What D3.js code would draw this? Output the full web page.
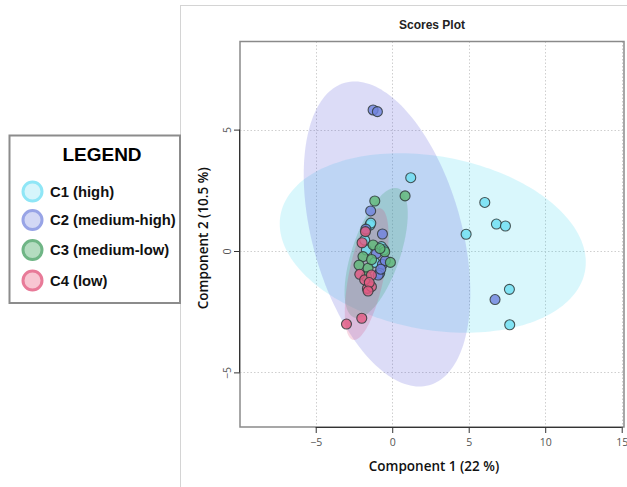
<!DOCTYPE html>
<html>
<head>
<meta charset="utf-8">
<script src="https://cdn.jsdelivr.net/npm/d3@7"></script>
<style>
  html, body { margin: 0; padding: 0; background: #fff; }
  svg { display: block; }
</style>
</head>
<body>
<svg id="chart" width="627" height="487"></svg>
<script>
// PCA scores, component 1 / component 2, per concentration group
const groupNames = ["C1 (high)", "C2 (medium-high)", "C3 (medium-low)", "C4 (low)"];

const c1X = [1.21, 6.05, 6.81, 7.40, 4.83, 7.66, 7.68, -1.45, -1.40, -1.80, -1.69, -0.71, -1.14, -0.55];
const c1Y = [3.02, 2.00, 1.11, 1.03, 0.69, -1.58, -3.04, 1.07, 1.15, 0.45, 0.04, 0.18, -0.47, 0.05];

const c2X = [-1.25, -0.97, 6.72, -1.41, -0.64, -1.72, -1.03, -0.64, -0.82, -0.92, -0.45, -0.75];
const c2Y = [5.81, 5.74, -2.00, 1.65, 0.70, 0.90, -0.10, -0.55, -0.92, -0.99, -0.40, -0.75];

const c3X = [-1.14, 0.84, -1.25, -0.49, -1.91, -0.12, -2.17, -1.58, -1.69, -0.80, -1.35];
const c3Y = [2.06, 2.27, 0.25, -0.03, -0.23, -0.47, -0.58, -0.71, -1.06, 0.10, -0.35];

const c4X = [-2.99, -1.99, -1.62, -1.36, -2.12, -1.80, -1.97, -1.75, -1.36, -1.50, -1.58];
const c4Y = [-3.01, -2.77, -1.54, -1.47, -0.96, -1.19, 0.34, 0.80, -0.99, -1.30, -1.65];

// 95% confidence regions: centre and two conjugate semi-axis vectors (score units)
const ellipseCenters = [[2.65, 0.33], [-0.34, 0.70], [-1.05, -0.08], [-1.67, -0.95]];
const ellipseAxisU = [[9.95, -1.16], [-2.75, 6.23], [1.43, 2.66], [0.89, 2.71]];
const ellipseAxisV = [[-1.03, -3.51], [4.70, 0.82], [1.49, -0.32], [1.12, -0.15]];

const xTicks = [-5, 0, 5, 10, 15];
const yTicks = [-5, 0, 5];
const xDomain = [-9.95, 15.15];
const yDomain = [-7.25, 8.63];

const chartTitle = "Scores Plot";
const xTitle = "Component 1 (22 %)";
const yTitle = "Component 2 (10.5 %)";
const legendTitle = "LEGEND";

// styling
const pointFill = ["rgba(110,222,242,0.82)", "rgba(112,132,222,0.82)", "rgba(96,184,120,0.82)", "rgba(226,92,130,0.82)"];
const ellipseFill = ["rgba(0,200,236,0.15)", "rgba(96,96,218,0.22)", "rgba(60,165,110,0.24)", "rgba(215,60,115,0.20)"];
const legendFill = ["#d6f5fb", "#d3d8f5", "#b4dcc0", "#f8c6d2"];
const legendStroke = ["#8fe6f6", "#98a4e6", "#6fb585", "#e87a98"];

const groupsX = [c1X, c2X, c3X, c4X];
const groupsY = [c1Y, c2Y, c3Y, c4Y];

const svg = d3.select("#chart");

const plot = { left: 240, top: 41.5, right: 624, bottom: 427 };
const x = d3.scaleLinear().domain(xDomain).range([plot.left, plot.right]);
const y = d3.scaleLinear().domain(yDomain).range([plot.bottom, plot.top]);

// outer panel edges
svg.append("line").attr("x1", 180.5).attr("x2", 180.5).attr("y1", 5).attr("y2", 487)
  .attr("stroke", "#d4d4d4").attr("stroke-width", 1);
svg.append("line").attr("x1", 180).attr("x2", 627).attr("y1", 5.5).attr("y2", 5.5)
  .attr("stroke", "#d4d4d4").attr("stroke-width", 1);

// dotted grid
const grid = svg.append("g").attr("stroke", "#cfcfcf").attr("stroke-width", 1).attr("stroke-dasharray", "1.5,2");
grid.selectAll(".gx").data(xTicks).join("line")
  .attr("x1", d => Math.round(x(d)) + 0.5).attr("x2", d => Math.round(x(d)) + 0.5)
  .attr("y1", plot.top).attr("y2", plot.bottom);
grid.selectAll(".gy").data(yTicks).join("line")
  .attr("y1", d => Math.round(y(d)) + 0.5).attr("y2", d => Math.round(y(d)) + 0.5)
  .attr("x1", plot.left).attr("x2", plot.right);

// confidence ellipses
const line = d3.line().x(d => x(d[0])).y(d => y(d[1])).curve(d3.curveLinearClosed);
const ellipsePts = i => d3.range(0, 360, 2).map(deg => {
  const t = deg * Math.PI / 180;
  const c = ellipseCenters[i], u = ellipseAxisU[i], v = ellipseAxisV[i];
  return [c[0] + Math.cos(t) * u[0] + Math.sin(t) * v[0],
          c[1] + Math.cos(t) * u[1] + Math.sin(t) * v[1]];
});
svg.append("g").selectAll("path").data(groupNames).join("path")
  .attr("d", (d, i) => line(ellipsePts(i)))
  .attr("fill", (d, i) => ellipseFill[i])
  .attr("stroke", "none");

// score points
const pts = svg.append("g");
groupNames.forEach((g, i) => {
  pts.selectAll(null).data(groupsX[i].map((v, k) => [v, groupsY[i][k]])).join("circle")
    .attr("cx", d => x(d[0])).attr("cy", d => y(d[1])).attr("r", 5)
    .attr("fill", pointFill[i])
    .attr("stroke", "#2f3a3a").attr("stroke-width", 1.1).attr("stroke-opacity", 0.85);
});

// frame
svg.append("rect").attr("x", plot.left).attr("y", plot.top)
  .attr("width", plot.right - plot.left).attr("height", plot.bottom - plot.top)
  .attr("fill", "none").attr("stroke", "#8a8a8a").attr("stroke-width", 1.5);

// axes
const axisFont = "'Open Sans', 'Liberation Sans', sans-serif";
const xAxis = svg.append("g").attr("transform", `translate(0,${plot.bottom})`)
  .call(d3.axisBottom(x).tickValues(xTicks).tickSize(6).tickPadding(6).tickSizeOuter(0));
xAxis.select(".domain").attr("d", `M${x(xTicks[0])},0.5H${x(xTicks[xTicks.length - 1])}`)
  .attr("stroke", "#333");
xAxis.selectAll(".tick line").attr("stroke", "#333");
xAxis.selectAll("text").attr("font-family", axisFont).attr("font-size", 10.5).attr("fill", "#555");

const yAxis = svg.append("g").attr("transform", `translate(${plot.left},0)`)
  .call(d3.axisLeft(y).tickValues(yTicks).tickSize(6).tickSizeOuter(0));
yAxis.select(".domain").attr("d", `M-0.5,${y(yTicks[yTicks.length - 1])}V${y(yTicks[0])}`)
  .attr("stroke", "#333");
yAxis.selectAll(".tick line").attr("stroke", "#333");
yAxis.selectAll("text")
  .attr("font-family", axisFont).attr("font-size", 10.5).attr("fill", "#555")
  .attr("text-anchor", "middle").attr("x", 0).attr("dy", 0)
  .attr("transform", "translate(-13,0) rotate(-90)")
  .attr("dominant-baseline", "central");

// titles
svg.append("text").attr("x", (plot.left + plot.right) / 2).attr("y", 29)
  .attr("text-anchor", "middle").attr("font-family", "'Liberation Sans', Arial, sans-serif")
  .attr("font-weight", "bold").attr("font-size", 12).attr("fill", "#222").text(chartTitle);

svg.append("text").attr("x", (plot.left + plot.right) / 2 + 2).attr("y", 471)
  .attr("text-anchor", "middle").attr("font-family", axisFont)
  .attr("font-weight", 600).attr("font-size", 13.5).attr("fill", "#111").text(xTitle);

svg.append("text").attr("transform", `translate(208,${(plot.top + plot.bottom) / 2 + 4}) rotate(-90)`)
  .attr("text-anchor", "middle").attr("font-family", axisFont)
  .attr("font-weight", 600).attr("font-size", 13.5).attr("fill", "#111").text(yTitle);

// legend
const legend = svg.append("g");
legend.append("rect").attr("x", 9.5).attr("y", 135.5).attr("width", 170.5).attr("height", 167.5)
  .attr("fill", "#fff").attr("stroke", "#8c8c8c").attr("stroke-width", 2);
legend.append("text").attr("x", 102).attr("y", 161).attr("text-anchor", "middle")
  .attr("font-family", "'Liberation Sans', Arial, sans-serif").attr("font-weight", "bold")
  .attr("font-size", 19).attr("fill", "#000").text(legendTitle);
const legendY = [191.5, 220, 250, 280.5];
groupNames.forEach((g, i) => {
  legend.append("circle").attr("cx", 32.5).attr("cy", legendY[i]).attr("r", 9.5)
    .attr("fill", legendFill[i]).attr("stroke", legendStroke[i]).attr("stroke-width", 3);
  legend.append("text").attr("x", 50).attr("y", legendY[i] + 5)
    .attr("font-family", "'Liberation Sans', Arial, sans-serif").attr("font-weight", "bold")
    .attr("font-size", 14.8).attr("fill", "#111").text(g);
});
</script>
</body>
</html>
